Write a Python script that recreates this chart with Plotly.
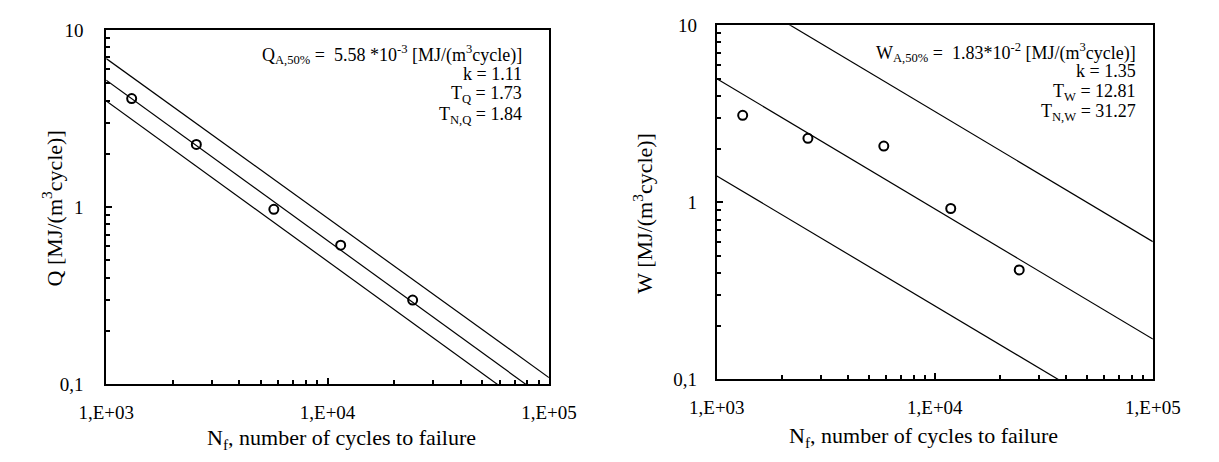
import plotly.graph_objects as go

# ---- data ----
cycles_q = [1303, 2553, 5718, 11460, 24230]
q_values = [4.10, 2.26, 0.972, 0.610, 0.2985]

cycles_w = [1314, 2617, 5833, 11830, 24380]
w_values = [3.10, 2.30, 2.08, 0.923, 0.415]

line_n = [1e3, 1e5]
q_upper = [6.90, 0.109]
q_mid = [5.21, 0.0803]
q_lower = [3.98, 0.0614]

w_upper = [17.7, 0.60]
w_mid = [4.99, 0.169]
w_lower = [1.41, 0.048]

x_tickvals = [1e3, 1e4, 1e5]
x_ticktext = ["1,E+03", "1,E+04", "1,E+05"]
y_tickvals = [0.1, 1, 10]
y_ticktext = ["0,1", "1", "10"]

q_text = ["Q<sub>A,50%</sub> =  5.58 *10<sup>-3</sup> [MJ/(m<sup>3</sup>cycle)]",
          "k = 1.11", "T<sub>Q</sub> = 1.73", "T<sub>N,Q</sub> = 1.84"]
w_text = ["W<sub>A,50%</sub> =  1.83*10<sup>-2</sup> [MJ/(m<sup>3</sup>cycle)]",
          "k = 1.35", "T<sub>W</sub> = 12.81", "T<sub>N,W</sub> = 31.27"]

x_title = "N<sub>f</sub>, number of cycles to failure"
q_title = "Q [MJ/(m<sup>3</sup>cycle)]"
w_title = "W [MJ/(m<sup>3</sup>cycle)]"

FONT = "Liberation Serif"
W, H = 1219, 462

fig = go.Figure()

line_style = dict(color="black", width=1.2)
marker_style = dict(symbol="circle-open", size=9, color="black", line=dict(width=2, color="black"))

for ys in (q_upper, q_mid, q_lower):
    fig.add_trace(go.Scatter(x=line_n, y=ys, mode="lines", line=line_style,
                             xaxis="x", yaxis="y", showlegend=False, hoverinfo="skip"))
fig.add_trace(go.Scatter(x=cycles_q, y=q_values, mode="markers", marker=marker_style,
                         xaxis="x", yaxis="y", showlegend=False))

for ys in (w_upper, w_mid, w_lower):
    fig.add_trace(go.Scatter(x=line_n, y=ys, mode="lines", line=line_style,
                             xaxis="x2", yaxis="y2", showlegend=False, hoverinfo="skip"))
fig.add_trace(go.Scatter(x=cycles_w, y=w_values, mode="markers", marker=marker_style,
                         xaxis="x2", yaxis="y2", showlegend=False))

minor_x = [m * 10 ** e for e in (3, 4) for m in range(2, 10)]
minor_y = [m * 10 ** e for e in (-1, 0) for m in range(2, 10)]

def xaxis(domain, anchor):
    return dict(type="log", range=[3, 5], domain=domain, anchor=anchor,
                showline=True, linecolor="black", linewidth=2, mirror=True,
                showgrid=False, zeroline=False,
                tickmode="array", tickvals=x_tickvals, ticktext=x_ticktext,
                ticks="inside", ticklen=6, tickwidth=1.5, tickcolor="black",
                ticklabelstandoff=10,
                minor=dict(tickmode="array", tickvals=minor_x, ticks="inside",
                           ticklen=4, tickwidth=1.5, tickcolor="black", showgrid=False),
                tickfont=dict(family=FONT, size=19, color="black"))

def yaxis(domain, anchor, standoff):
    return dict(type="log", range=[-1, 1], domain=domain, anchor=anchor,
                showline=True, linecolor="black", linewidth=2, mirror=True,
                showgrid=False, zeroline=False,
                tickmode="array", tickvals=y_tickvals, ticktext=y_ticktext,
                ticks="inside", ticklen=6, tickwidth=1.5, tickcolor="black",
                ticklabelstandoff=standoff,
                minor=dict(tickmode="array", tickvals=minor_y, ticks="inside",
                           ticklen=4, tickwidth=1.5, tickcolor="black", showgrid=False),
                tickfont=dict(family=FONT, size=19, color="black"))

L = (82, 546, 21, 392)
R = (722, 1179, 16, 387)

def dom_x(p):
    return [p[0] / W, p[1] / W]

def dom_y(p):
    return [1 - p[3] / H, 1 - p[2] / H]

annotations = []

def px(x, y):
    return x / W, 1 - y / H

for txt, yy in zip(q_text, [47, 67, 89, 110]):
    x, y = px(520, yy)
    annotations.append(dict(text=txt, x=x, y=y, xref="paper", yref="paper",
                            xanchor="right", yanchor="middle", showarrow=False,
                            font=dict(family=FONT, size=18, color="black")))
for txt, yy in zip(w_text, [45, 64, 86, 107]):
    x, y = px(1163, yy)
    annotations.append(dict(text=txt, x=x, y=y, xref="paper", yref="paper",
                            xanchor="right", yanchor="middle", showarrow=False,
                            font=dict(family=FONT, size=18, color="black")))

for txt, cx, cy in [(x_title, 329, 449), (x_title, 939, 447)]:
    x, y = px(cx, cy)
    annotations.append(dict(text=txt, x=x, y=y, xref="paper", yref="paper",
                            xanchor="center", yanchor="middle", showarrow=False,
                            font=dict(family=FONT, size=22, color="black")))
for txt, cx, cy in [(q_title, 25, 208), (w_title, 645, 213)]:
    x, y = px(cx, cy)
    annotations.append(dict(text=txt, x=x, y=y, xref="paper", yref="paper",
                            xanchor="center", yanchor="middle", showarrow=False,
                            textangle=-90,
                            font=dict(family=FONT, size=22, color="black")))

fig.update_layout(
    width=W, height=H,
    margin=dict(l=0, r=0, t=0, b=0),
    paper_bgcolor="white", plot_bgcolor="white",
    xaxis=xaxis(dom_x(L), "y"),
    yaxis=yaxis(dom_y(L), "x", 17),
    xaxis2=xaxis(dom_x(R), "y2"),
    yaxis2=yaxis(dom_y(R), "x2", 14),
    annotations=annotations,
    showlegend=False,
)

fig.write_html("out.html",
               config={"displayModeBar": False},
               post_script="document.body.style.margin='0';document.body.style.overflow='hidden';")
